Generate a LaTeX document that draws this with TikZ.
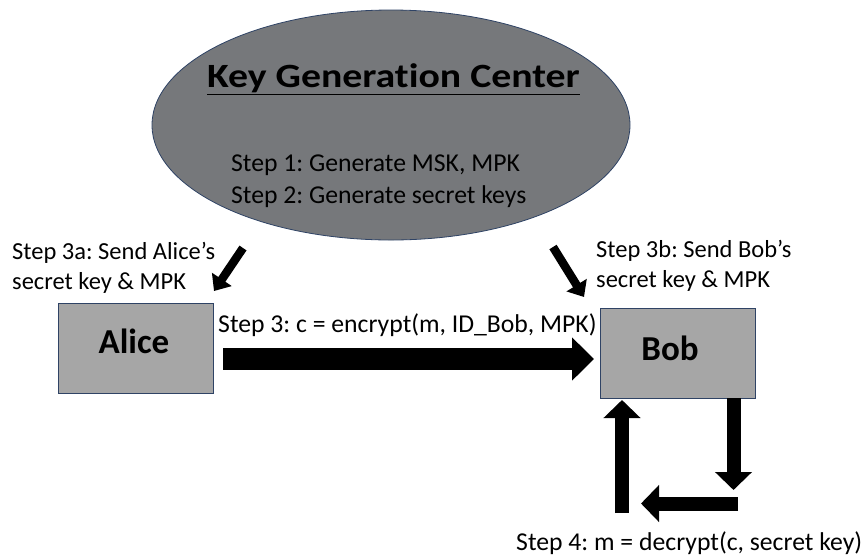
\documentclass[tikz,border=0pt]{standalone}
\usepackage{fontspec}
\setmainfont{Carlito}[Ligatures={NoCommon,TeX}]
\usetikzlibrary{arrows.meta}
\definecolor{kgcfill}{HTML}{76787B}
\definecolor{boxfill}{HTML}{A6A6A6}
\definecolor{edgeblue}{HTML}{2F4365}
\tikzset{
  party/.style={draw=edgeblue, line width=1pt, fill=boxfill, minimum width=155pt, minimum height=90pt, inner sep=0pt},
  partyname/.style={font=\fontsize{35}{40}\selectfont\bfseries, inner sep=0pt, anchor=base},
  lbl/.style={font=\fontsize{25.7}{30}\selectfont, inner sep=0pt, anchor=base west},
  slbl/.style={font=\fontsize{24.5}{30}\selectfont, inner sep=0pt, anchor=base west},
  bigarrow/.style={line width=22pt, -{Triangle[length=22pt,width=42pt]}},
  medarrow/.style={line width=14pt, -{Triangle[length=18pt,width=36pt]}},
  smallarrow/.style={line width=8.5pt, -{Triangle[length=14pt,width=23pt]}}
}
\begin{document}
\frenchspacing
\begin{tikzpicture}[x=1pt,y=-1pt]
\useasboundingbox (0,0) rectangle (864,558);
% KGC
\draw[draw=edgeblue, line width=0.8pt, fill=kgcfill] (391,125) ellipse [x radius=239, y radius=115];
\node[font=\fontsize{34}{40}\selectfont\bfseries, inner sep=0pt, anchor=base] (title) at (393.5,87) {\scalebox{1.17}[1]{\underline{Key Generation Center}}};
\node[lbl] (step1) at (231,171) {Step 1: Generate MSK, MPK};
\node[lbl] (step2) at (231,203) {Step 2: Generate secret keys};
% parties
\node[party] (alice) at (135.5,348) {};
\node[partyname] (alicename) at (134,353) {Alice};
\node[party] (bob) at (677.5,353) {};
\node[partyname] (bobname) at (670,360) {Bob};
% labels
\node[slbl] (l3a1) at (12,259) {Step 3a: Send Alice’s};
\node[slbl] (l3a2) at (12,289) {secret key \& MPK};
\node[slbl] (l3b1) at (596,257) {Step 3b: Send Bob’s};
\node[slbl] (l3b2) at (596,287) {secret key \& MPK};
\node[lbl] (l3) at (218,332) {Step 3: c = encrypt(m, ID\_Bob, MPK)};
\node[lbl] (l4) at (516,550) {Step 4: m = decrypt(c, secret key)};
% coordinates
\coordinate (a3s) at (243,248);
\coordinate (a3e) at (214,291);
\coordinate (b3s) at (553,247);
\coordinate (b3e) at (584,297);
\coordinate (ms) at (223,359);
\coordinate (me) at (594,359);
\coordinate (d1s) at (733.5,398);
\coordinate (d1e) at (733.5,490);
\coordinate (d2s) at (738,503.5);
\coordinate (d2e) at (641,503.5);
\coordinate (d3s) at (622,513);
\coordinate (d3e) at (622,400);
% arrows
\draw[smallarrow] (a3s) -- (a3e);
\draw[smallarrow] (b3s) -- (b3e);
\draw[bigarrow] (ms) -- (me);
\draw[medarrow] (d1s) -- (d1e);
\draw[medarrow] (d2s) -- (d2e);
\draw[medarrow] (d3s) -- (d3e);
\end{tikzpicture}
\end{document}
